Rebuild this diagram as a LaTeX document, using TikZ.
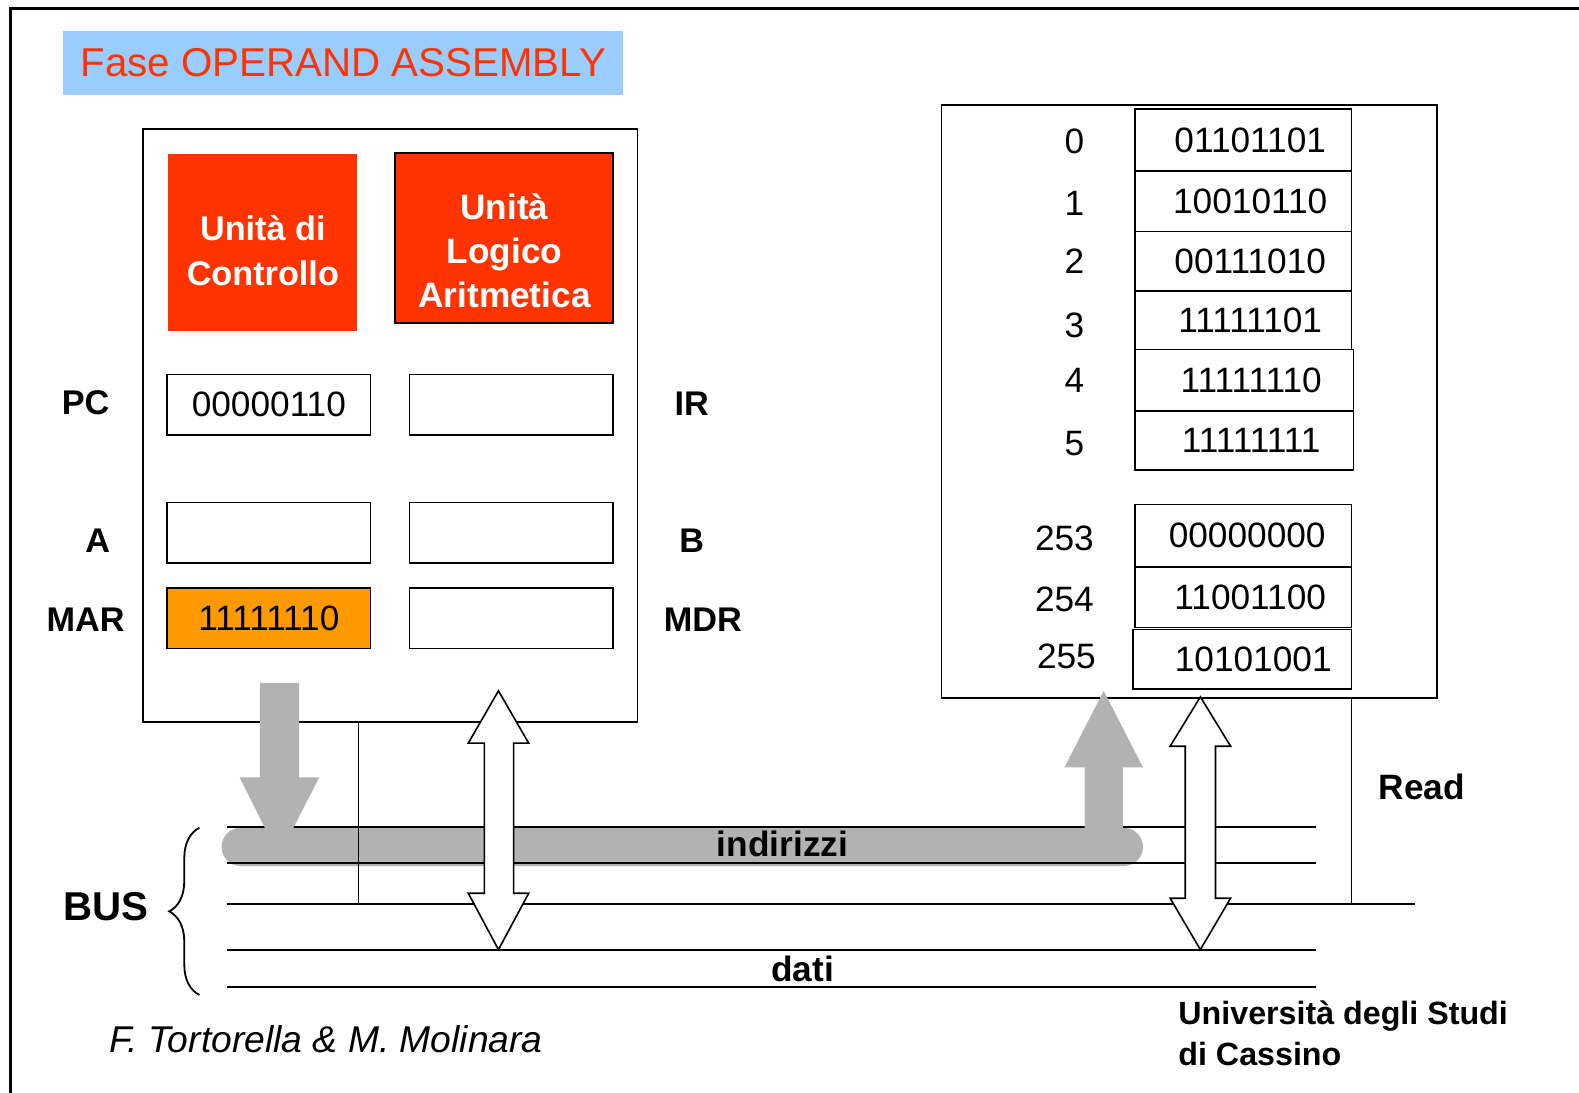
\documentclass[tikz,border=0pt]{standalone}
\usepackage{fontspec}
\setmainfont{Liberation Sans}
\usetikzlibrary{decorations.pathreplacing}
\definecolor{ured}{HTML}{FF3300}
\definecolor{uorange}{HTML}{FF9900}
\definecolor{ublue}{HTML}{99CCFF}
\definecolor{ugray}{HTML}{B2B2B2}
\begin{document}
\begin{tikzpicture}[x=1pt,y=-1pt,
 reg/.style={draw, line width=1.6pt, minimum width=202pt, minimum height=60pt, inner sep=0pt, font=\fontsize{35}{40}\selectfont},
 lbl/.style={font=\bfseries\fontsize{34}{40}\selectfont, inner sep=0pt},
 cell/.style={draw, line width=1.6pt, minimum width=215pt, inner sep=0pt, font=\fontsize{35}{40}\selectfont},
 addr/.style={inner sep=0pt, font=\fontsize{35}{40}\selectfont},
 unit/.style={fill=ured, inner sep=0pt},
 unittext/.style={text=white, align=center, inner sep=0pt},
 busline/.style={line width=2pt},
 thinline/.style={line width=1.6pt},
 bigarrow/.style={fill=ugray},
 wharrow/.style={fill=white, draw=black, line width=1.6pt, line join=miter},
 bold/.style={font=\bfseries\fontsize{35}{40}\selectfont, inner sep=0pt},
]
\useasboundingbox (0,0) rectangle (1568,1085);
% outer frame
\draw[line width=3pt] (10,1090) -- (10,8) -- (1570,8);
% title
\node[fill=ublue, text=ured, minimum width=556pt, minimum height=63pt, inner sep=0pt,
      font=\fontsize{40}{44}\selectfont] (title) at (341,62.5) {Fase OPERAND ASSEMBLY};
% CPU
\node[draw, line width=1.6pt, minimum width=491pt, minimum height=589pt, inner sep=0pt] (cpu) at (387.5,422.5) {};
\node[unit, minimum width=188pt, minimum height=176pt] (uc) at (261,241) {};
\node[unittext, font=\bfseries\fontsize{34}{44}\selectfont] (uct) at (261,249) {Unità di\\Controllo};
\node[unit, draw=black, line width=1.6pt, minimum width=217pt, minimum height=169pt] (alu) at (500.5,236.5) {};
\node[unittext, font=\bfseries\fontsize{35}{44}\selectfont] (alut) at (501,249) {Unità\\Logico\\Aritmetica};
\node[reg] (pc) at (267,402) {00000110};
\node[reg] (ir) at (507.5,402) {};
\node[reg] (ra) at (267,529) {};
\node[reg] (rb) at (507.5,529) {};
\node[reg, fill=uorange] (mar) at (267,614) {11111110};
\node[reg] (mdr) at (507.5,614) {};
\node[lbl] (lpc) at (85,400) {PC};
\node[lbl] (lir) at (687,401) {IR};
\node[lbl] (la) at (97,537) {A};
\node[lbl] (lb) at (687,537) {B};
\node[lbl] (lmar) at (85,615) {MAR};
\node[lbl] (lmdr) at (698,615) {MDR};
% memory
\node[draw, line width=1.6pt, minimum width=492pt, minimum height=589pt, inner sep=0pt] (mem) at (1181,398.5) {};
\node[cell, minimum height=62pt] (m0) at (1234.5,139) {\hspace{14pt}01101101};
\node[cell, minimum height=60pt] (m1) at (1234.5,200) {\hspace{14pt}10010110};
\node[cell, minimum height=59pt] (m2) at (1234.5,259.5) {\hspace{14pt}00111010};
\node[cell, minimum height=58pt] (m3) at (1234.5,318) {\hspace{14pt}11111101};
\node[cell, minimum width=217pt, minimum height=61pt] (m4) at (1235.5,377.5) {\hspace{14pt}11111110};
\node[cell, minimum width=217pt, minimum height=59pt] (m5) at (1235.5,437.5) {\hspace{14pt}11111111};
\node[cell, minimum height=62pt] (m253) at (1234.5,532) {\hspace{8pt}00000000};
\node[cell, minimum height=60pt] (m254) at (1234.5,593) {\hspace{14pt}11001100};
\node[cell, minimum width=217pt, minimum height=59pt] (m255) at (1233.5,654.5) {\hspace{22pt}10101001};
\node[addr] (a0) at (1067,140) {0};
\node[addr] (a1) at (1067,202) {1};
\node[addr] (a2) at (1067,259) {2};
\node[addr] (a3) at (1067,323) {3};
\node[addr] (a4) at (1067,378) {4};
\node[addr] (a5) at (1067,440) {5};
\node[addr] (a253) at (1057,535) {253};
\node[addr] (a254) at (1057,595) {254};
\node[addr] (a255) at (1059,652) {255};
% address bus highlight
\fill[ugray, rounded corners=19pt] (220,822) rectangle (1135,860);
% bus lines
\coordinate (b1l) at (225,821); \coordinate (b1r) at (1307,821);
\coordinate (b2l) at (225,857); \coordinate (b2r) at (1307,857);
\coordinate (b3l) at (225,898); \coordinate (b3r) at (1405,898);
\coordinate (b4l) at (225,943); \coordinate (b4r) at (1307,943);
\coordinate (b5l) at (225,980); \coordinate (b5r) at (1307,980);
\draw[busline] (b1l) -- (b1r);
\draw[busline] (b2l) -- (b2r);
\draw[busline] (b3l) -- (b3r);
\draw[busline] (b4l) -- (b4r);
\draw[busline] (b5l) -- (b5r);
% control lines
\coordinate (cpuc) at (356,898);
\coordinate (memc) at (1342,898);
\draw[thinline] (cpu.south -| cpuc) -- (cpuc);
\draw[thinline] (mem.south -| memc) -- (memc);
% gray address arrows
\fill[bigarrow] (258,678) -- (297,678) -- (297,772) -- (317,772) -- (277,850) -- (238,772) -- (258,772) -- cycle;
\fill[bigarrow] (1077,840) -- (1077,762) -- (1057,762) -- (1096,686) -- (1135,762) -- (1115,762) -- (1115,840) -- cycle;
% bus labels
\node[bold] (lind) at (777,838) {indirizzi};
\node[bold] (ldati) at (797,962) {dati};
\node[bold] (lread) at (1412,781) {Read};
% data arrows
\draw[wharrow] (495,686) -- (525,738) -- (510,738) -- (510,887) -- (525,887) -- (495,943) -- (465,887) -- (481,887) -- (481,738) -- (465,738) -- cycle;
\draw[wharrow] (1192,692) -- (1222,741) -- (1207,741) -- (1207,892) -- (1222,892) -- (1192,943) -- (1162,892) -- (1177,892) -- (1177,741) -- (1162,741) -- cycle;
% brace
\draw[line width=1.8pt, decorate, decoration={brace, amplitude=30pt}] (198,988) -- (198,822);
\node[font=\bfseries\fontsize{40}{44}\selectfont, inner sep=0pt] (lbus) at (105,900) {BUS};
% footer
\node[font=\itshape\fontsize{37}{40}\selectfont, inner sep=0pt] (auth) at (324,1032) {F. Tortorella \& M. Molinara};
\node[font=\bfseries\fontsize{32}{40}\selectfont, inner sep=0pt, align=left, anchor=west] (univ) at (1170,1026) {Università degli Studi\\di Cassino};
\end{tikzpicture}
\end{document}
